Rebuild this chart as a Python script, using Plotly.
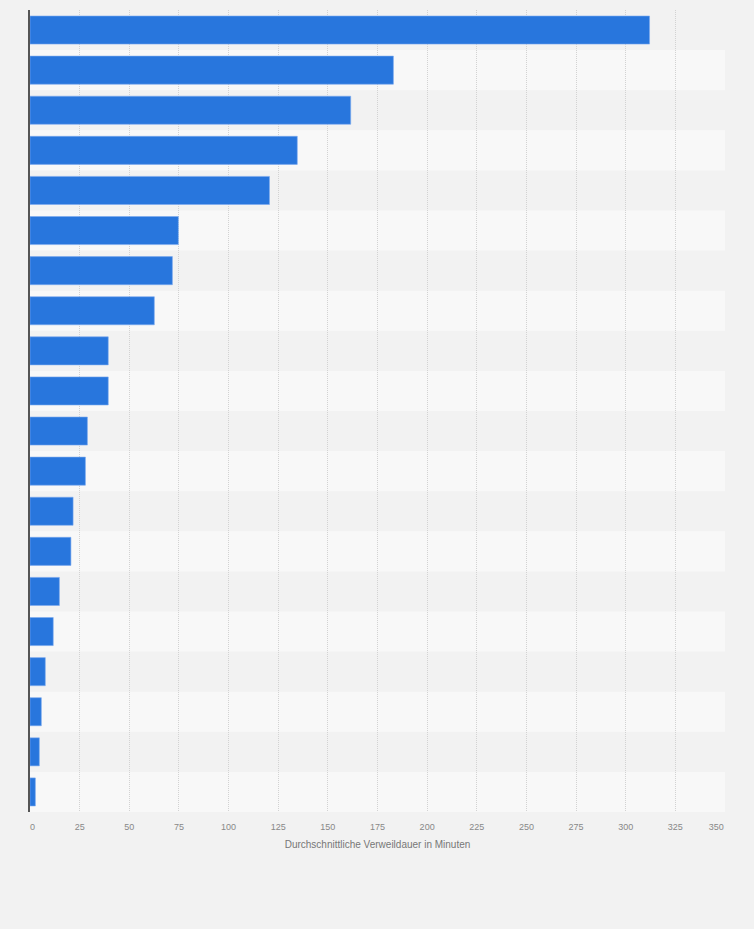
import plotly.graph_objects as go

categories = [f"Kategorie {i}" for i in range(1, 21)]
values = [312, 183, 161.5, 134.6, 120.6, 74.7, 71.7, 62.6, 39.4, 39.4,
          28.9, 27.9, 21.7, 20.6, 14.8, 11.7, 7.7, 5.7, 4.7, 2.7]
tick_vals = list(range(0, 351, 25))
tick_text = [str(v) for v in tick_vals]
x_title = "Durchschnittliche Verweildauer in Minuten"

NB = "\u00a0"
tick_labels = list(tick_text)
tick_labels[0] = NB * 2 + tick_labels[0]
tick_labels[-1] = tick_labels[-1] + NB * 7

fig = go.Figure()
fig.add_trace(go.Bar(
    x=values, y=categories, orientation="h",
    marker=dict(color="#2876dd", line=dict(color="#7aaaf0", width=0.6)),
    width=0.7, hoverinfo="x+y",
))

shapes = []
for i, c in enumerate(categories):
    if i % 2 == 1:
        shapes.append(dict(type="rect", xref="paper", x0=0, x1=1, yref="y",
                           y0=i - 0.5, y1=i + 0.5, fillcolor="#f8f8f8",
                           line=dict(width=0), layer="below"))

fig.update_layout(
    width=754, height=929,
    paper_bgcolor="#f2f2f2", plot_bgcolor="#f2f2f2",
    margin=dict(l=30, r=29, t=10, b=117),
    font=dict(family="Liberation Sans, Arial, sans-serif", size=9, color="#888888"),
    showlegend=False, bargap=0.3, shapes=shapes,
)
fig.update_xaxes(
    range=[0, 350], tickvals=tick_vals, ticktext=tick_labels,
    showgrid=True, gridcolor="#d2d2d2", griddash="1px,1px", gridwidth=1,
    zeroline=False, showline=False, ticks="outside", ticklen=6,
    tickcolor="rgba(0,0,0,0)",
    tickfont=dict(size=9, color="#888888"),
    title=dict(text=x_title, font=dict(size=10, color="#777777"), standoff=10),
)
fig.update_yaxes(
    categoryorder="array", categoryarray=categories, autorange="reversed",
    showticklabels=False, showgrid=False, zeroline=False,
    showline=True, linecolor="#555555", linewidth=1.5, ticks="",
)
fig.write_html(
    "out.html",
    config={"displayModeBar": False},
    post_script="document.body.style.margin='0';document.body.style.background='#f2f2f2';",
)
